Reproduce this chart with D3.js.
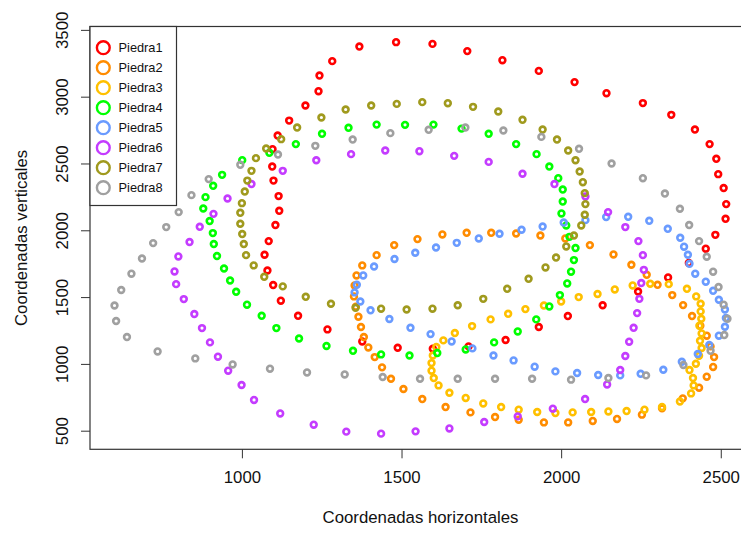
<!DOCTYPE html>
<html>
<head>
<meta charset="utf-8">
<script src="https://cdn.jsdelivr.net/npm/d3@7.9.0/dist/d3.min.js"></script>
<style>
  html, body { margin: 0; padding: 0; background: #fff; }
  svg { display: block; font-family: "Liberation Sans", Arial, sans-serif; }
</style>
</head>
<body>
<svg id="chart" width="741" height="533"></svg>
<script>
// coordinates of the stones (horizontal / vertical)
const piedra1X = [1096,1112,1148,1199,1240,1243,1283,1368,1483,1597,1706,1816,1930,2042,2142,2256,2345,2419,2465,2486,2492,2509,2517,2515,2483,2453,2400,2335,2241,2130,2021,1930,1826,1710,1598,1488,1377,1268,1176,1122,1098,1080,1071,1084,1105,1117,1115,1099,1095];
const piedra1Y = [2607,2709,2821,2934,3041,3158,3266,3375,3408,3395,3341,3273,3193,3109,3026,2952,2864,2754,2645,2535,2420,2316,2196,2086,1966,1862,1755,1647,1542,1439,1358,1276,1179,1131,1113,1121,1168,1258,1360,1473,1590,1699,1817,1919,2039,2146,2256,2372,2477];

const piedra2X = [1377,1422,1477,1550,1628,1704,1781,1859,1935,2013,2090,2164,2220,2268,2302,2348,2382,2410,2436,2456,2468,2479,2476,2456,2432,2381,2316,2253,2175,2099,2022,1946,1867,1793,1716,1638,1565,1506,1467,1439,1416,1396,1382,1373,1365,1357,1351,1353,1359];
const piedra2Y = [1737,1814,1889,1934,1969,1981,1981,1976,1961,1939,1889,1819,1742,1667,1592,1515,1440,1358,1286,1211,1131,1051,977,904,822,742,668,620,588,573,562,562,582,602,637,677,737,812,889,974,1051,1123,1201,1276,1353,1428,1505,1587,1662];

const piedra3X = [1594,1594,1601,1616,1650,1701,1756,1812,1867,1925,1982,2036,2094,2148,2205,2261,2316,2372,2407,2415,2413,2402,2422,2432,2440,2435,2440,2433,2439,2437,2437,2423,2394,2337,2279,2224,2168,2114,2055,2000,1946,1888,1834,1779,1721,1667,1631,1609,1598];
const piedra3Y = [1006,949,894,839,784,745,704,677,657,640,632,637,640,644,647,657,677,719,779,839,894,954,1001,1061,1119,1173,1228,1286,1338,1393,1450,1505,1562,1597,1600,1587,1557,1523,1500,1467,1437,1410,1375,1333,1283,1231,1176,1126,1063];

const piedra4X = [1169,1086,1001,1251,1334,1422,1511,1600,1688,1773,1859,1923,1963,1991,2005,2005,2001,2016,2026,2045,2040,2031,2019,1996,1963,1922,1864,1790,1701,1612,1525,1436,1348,1265,1179,1108,1062,1016,982,963,944,922,912,909,899,879,886,910,938];
const piedra4Y = [2645,2580,2525,2722,2767,2791,2789,2791,2761,2722,2645,2570,2477,2390,2305,2215,2126,2036,1951,1867,1777,1690,1602,1515,1430,1333,1243,1161,1108,1081,1063,1071,1098,1134,1190,1268,1360,1443,1540,1624,1714,1807,1897,1979,2069,2163,2248,2333,2415];

const piedra5X = [1942,1876,1807,1742,1673,1608,1543,1478,1414,1380,1360,1353,1371,1403,1462,1528,1591,1657,1722,1788,1851,1917,1982,2050,2116,2185,2249,2320,2378,2428,2464,2494,2513,2516,2513,2494,2476,2453,2420,2402,2397,2385,2373,2334,2276,2210,2141,2076,2008];
const piedra5Y = [2028,2004,1974,1939,1906,1871,1832,1785,1729,1662,1592,1535,1467,1401,1336,1270,1223,1168,1116,1063,1026,979,944,932,917,914,926,956,1016,1074,1141,1211,1278,1343,1407,1480,1547,1615,1675,1749,1817,1877,1944,2011,2071,2101,2099,2076,2058];

const piedra6X = [1233,1342,1449,1556,1665,1773,1879,1979,2076,2147,2201,2242,2256,2259,2251,2245,2238,2227,2213,2201,2185,2144,2075,1974,1864,1759,1650,1544,1436,1327,1225,1120,1038,999,957,925,900,875,851,818,794,789,801,836,868,911,955,1030,1128];
const piedra6Y = [2524,2570,2597,2592,2557,2512,2423,2346,2253,2136,2024,1919,1814,1704,1605,1487,1380,1270,1166,1059,954,846,737,665,607,565,517,495,478,493,545,629,730,842,949,1054,1161,1268,1373,1485,1597,1692,1804,1912,2026,2123,2238,2346,2445];

const piedra7X = [1173,1123,1076,1044,1249,1325,1405,1485,1565,1645,1724,1803,1879,1942,1987,2022,2045,2058,2068,2074,2076,2074,2063,2040,2016,1984,1951,1898,1831,1756,1676,1597,1516,1436,1356,1279,1200,1128,1070,1037,1013,1006,1001,995,995,1000,1009,1017,1030];
const piedra7Y = [2769,2682,2612,2540,2844,2904,2934,2946,2959,2951,2924,2889,2827,2754,2679,2597,2524,2440,2360,2278,2196,2116,2036,1961,1879,1796,1722,1637,1562,1487,1439,1413,1407,1413,1420,1450,1502,1580,1652,1737,1814,1897,1972,2049,2131,2203,2290,2372,2445];

const piedra8X = [1113,995,896,842,802,763,722,687,654,622,601,606,640,736,854,971,1088,1204,1322,1441,1558,1676,1793,1909,2031,2148,2266,2383,2468,2511,2521,2509,2493,2476,2456,2432,2401,2372,2325,2256,2158,2056,1938,1819,1700,1585,1465,1347,1230];
const piedra8Y = [2567,2490,2383,2263,2136,2024,1904,1789,1675,1553,1437,1321,1201,1093,1041,996,964,936,921,902,889,889,889,889,882,894,914,992,1098,1216,1338,1443,1575,1690,1802,1919,2039,2161,2275,2390,2500,2610,2699,2747,2769,2752,2727,2679,2632];

const seriesNames = ["Piedra1","Piedra2","Piedra3","Piedra4","Piedra5","Piedra6","Piedra7","Piedra8"];
const seriesColors = ["#ff0000","#ff8c00","#ffc000","#00ff00","#6a9bff","#c43cff","#a09a1e","#a0a0a0"];
const xTicks = [1000, 1500, 2000, 2500];
const yTicks = [500, 1000, 1500, 2000, 2500, 3000, 3500];

const allX = [piedra1X,piedra2X,piedra3X,piedra4X,piedra5X,piedra6X,piedra7X,piedra8X];
const allY = [piedra1Y,piedra2Y,piedra3Y,piedra4Y,piedra5Y,piedra6Y,piedra7Y,piedra8Y];

const series = seriesNames.map((name, i) => ({
  name,
  color: seriesColors[i],
  points: allX[i].map((x, j) => ({ x, y: allY[i][j] }))
}));

// plot region (R style, 4% padding around the data)
const plotL = 90, plotR = 752, plotT = 26.5, plotB = 449.3;

function padded(vals) {
  const [lo, hi] = d3.extent(vals);
  const pad = (hi - lo) * 0.04;
  return [lo - pad, hi + pad];
}

const x = d3.scaleLinear().domain(padded(allX.flat())).range([plotL, plotR]);
const y = d3.scaleLinear().domain(padded(allY.flat())).range([plotB, plotT]);

const svg = d3.select('#chart');

// points
series.forEach(s => {
  svg.append('g')
    .selectAll('circle')
    .data(s.points)
    .join('circle')
    .attr('cx', d => x(d.x))
    .attr('cy', d => y(d.y))
    .attr('r', 2.9)
    .attr('fill', 'none')
    .attr('stroke', s.color)
    .attr('stroke-width', 2.6);
});

// axes
const xAxis = svg.append('g')
  .attr('transform', `translate(0,${plotB})`)
  .call(d3.axisBottom(x).tickValues(xTicks).tickSize(9).tickPadding(13).tickFormat(d3.format('d')));
const yAxis = svg.append('g')
  .attr('transform', `translate(${plotL},0)`)
  .call(d3.axisLeft(y).tickValues(yTicks).tickSize(9).tickFormat(d3.format('d')));

[xAxis, yAxis].forEach(a => {
  a.select('.domain').remove();
  a.selectAll('line').attr('stroke', '#333');
  a.selectAll('text').attr('font-size', 16.8).attr('fill', '#111')
    .attr('font-family', '"Liberation Sans", Arial, sans-serif');
});

// y tick labels rotated like R (las = 0)
yAxis.selectAll('text')
  .attr('x', null).attr('dy', null)
  .attr('text-anchor', 'middle')
  .attr('transform', 'translate(-28,0) rotate(-90)')
  .attr('dy', '0.35em');

// plot frame
svg.append('rect')
  .attr('x', plotL).attr('y', plotT)
  .attr('width', plotR - plotL).attr('height', plotB - plotT)
  .attr('fill', 'none').attr('stroke', '#333').attr('stroke-width', 1.2);

// axis titles
svg.append('text')
  .attr('x', (plotL + 741) / 2 + 5).attr('y', 517).attr('dy', '0.35em')
  .attr('text-anchor', 'middle').attr('font-size', 16.8).attr('fill', '#111')
  .text('Coordenadas horizontales');
svg.append('text')
  .attr('transform', `translate(21,${(plotT + plotB) / 2}) rotate(-90)`)
  .attr('dy', '0.35em')
  .attr('text-anchor', 'middle').attr('font-size', 16.8).attr('fill', '#111')
  .text('Coordenadas verticales');

// legend
const legend = svg.append('g');
legend.append('rect')
  .attr('x', plotL).attr('y', plotT)
  .attr('width', 86.5).attr('height', 179)
  .attr('fill', '#fff').attr('stroke', '#333').attr('stroke-width', 1.2);

series.forEach((s, i) => {
  const ly = 47.7 + i * 20;
  legend.append('circle')
    .attr('cx', 103.3).attr('cy', ly).attr('r', 6.4)
    .attr('fill', 'none').attr('stroke', s.color).attr('stroke-width', 2.4);
  legend.append('text')
    .attr('x', 118.5).attr('y', ly).attr('dy', '0.35em')
    .attr('font-size', 12.8).attr('fill', '#111')
    .text(s.name);
});
</script>
</body>
</html>
